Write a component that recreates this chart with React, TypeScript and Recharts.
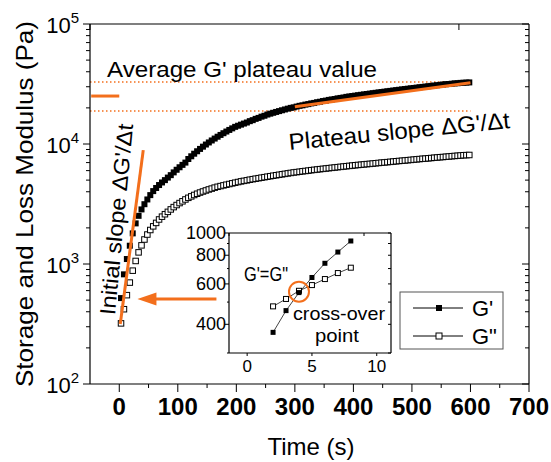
import { ComposedChart, LineChart, Line, XAxis, YAxis, ReferenceLine, ReferenceDot } from 'recharts';

const FONT = '"Liberation Sans", Arial, sans-serif';
const ORANGE = '#f36f1c';

// time (s) of each measurement
const times = [
  3, 8, 13, 18, 23, 28, 33, 38, 43, 48, 53, 58, 63, 68, 73, 78, 83, 88, 93, 98,
  103, 108, 113, 118, 123, 128, 133, 138, 143, 148, 153, 158, 163, 168, 173, 178, 183, 188, 193, 198,
  203, 208, 213, 218, 223, 228, 233, 238, 243, 248, 253, 258, 263, 268, 273, 278, 283, 288, 293, 298,
  303, 308, 313, 318, 323, 328, 333, 338, 343, 348, 353, 358, 363, 368, 373, 378, 383, 388, 393, 398,
  403, 408, 413, 418, 423, 428, 433, 438, 443, 448, 453, 458, 463, 468, 473, 478, 483, 488, 493, 498,
  503, 508, 513, 518, 523, 528, 533, 538, 543, 548, 553, 558, 563, 568, 573, 578, 583, 588, 593, 598,
];

// storage modulus G' (Pa)
const gPrime = [
  520, 820, 1100, 1420, 1800, 2180, 2520, 2850, 3150, 3450, 3750, 4050, 4300, 4550, 4780, 5000, 5250, 5500, 5800, 6100,
  6400, 6700, 7000, 7500, 7900, 8300, 8700, 9100, 9500, 9900, 10300, 10700, 11100, 11500, 11900, 12300, 12700, 13100, 13500, 13900,
  14200, 14500, 14800, 15100, 15500, 15800, 16200, 16500, 16900, 17200, 17600, 17900, 18200, 18500, 18800, 19100, 19400, 19700, 20000, 20200,
  20500, 20800, 21000, 21300, 21500, 21800, 22000, 22300, 22500, 22800, 23000, 23300, 23500, 23700, 24000, 24200, 24400, 24700, 24900, 25100,
  25300, 25500, 25700, 25900, 26100, 26300, 26500, 26700, 26900, 27100, 27300, 27500, 27700, 27900, 28100, 28300, 28500, 28700, 28900, 29100,
  29300, 29500, 29700, 29900, 30100, 30300, 30500, 30700, 30900, 31100, 31300, 31500, 31600, 31800, 32000, 32100, 32300, 32400, 32500, 32600,
];

// loss modulus G'' (Pa)
const gDouble = [
  320, 420, 550, 700, 880, 1060, 1250, 1430, 1600, 1760, 1920, 2060, 2200, 2350, 2480, 2600, 2720, 2850, 2980, 3100,
  3220, 3330, 3450, 3560, 3660, 3760, 3850, 3940, 4020, 4100, 4180, 4250, 4330, 4400, 4460, 4520, 4580, 4640, 4700, 4760,
  4820, 4880, 4930, 4980, 5040, 5090, 5140, 5190, 5240, 5290, 5340, 5390, 5440, 5490, 5540, 5590, 5640, 5690, 5740, 5790,
  5830, 5870, 5920, 5960, 6000, 6050, 6090, 6130, 6170, 6210, 6250, 6290, 6330, 6370, 6410, 6450, 6490, 6530, 6570, 6610,
  6650, 6690, 6720, 6760, 6800, 6830, 6870, 6910, 6950, 6990, 7020, 7060, 7100, 7140, 7180, 7220, 7250, 7290, 7330, 7370,
  7410, 7450, 7490, 7530, 7560, 7600, 7640, 7680, 7720, 7760, 7790, 7830, 7870, 7910, 7950, 7980, 8020, 8060, 8080, 8100,
];

// inset: first seconds, cross-over at ~4 s
const insetTimes = [2, 3, 4, 5, 6, 7, 8];
const insetGPrime = [369, 459, 550, 640, 738, 826, 923];
const insetGDouble = [479, 516, 560, 593, 630, 669, 706];

const xTicks = [0, 50, 100, 150, 200, 250, 300, 350, 400, 450, 500, 550, 600, 650, 700];
const xTopTicks = [0, 100, 200, 300, 400, 500, 600, 700];
const yTicks = [
  100, 200, 300, 400, 500, 600, 700, 800, 900,
  1000, 2000, 3000, 4000, 5000, 6000, 7000, 8000, 9000,
  10000, 20000, 30000, 40000, 50000, 60000, 70000, 80000, 90000, 100000,
];
const insetYTicks = [300, 400, 500, 600, 700, 800, 900, 1000];
const insetYLabels = [400, 600, 800, 1000];
const insetXTicks = [0, 5, 10];

const rows = times.map((t, i) => ({ t, gp: gPrime[i], gpp: gDouble[i] }));
const insetRows = insetTimes.map((t, i) => ({ t, gp: insetGPrime[i], gpp: insetGDouble[i] }));

const isDecade = (v: number) => Math.abs(Math.log10(v) - Math.round(Math.log10(v))) < 1e-9;

const BottomTick = ({ x, y, payload }: any) => {
  const major = payload.value % 100 === 0;
  return (
    <g>
      <line x1={x} y1={y} x2={x} y2={y + (major ? 8 : 4)} stroke="#000" />
      {major && (
        <text x={x} y={y + 31} textAnchor="middle" fontFamily={FONT} fontWeight="bold" fontSize={24} fill="#000">
          {payload.value}
        </text>
      )}
    </g>
  );
};

const TopTick = ({ x, y }: any) => <line x1={x} y1={y} x2={x} y2={y + 6} stroke="#000" />;

const LeftTick = ({ x, y, payload }: any) => {
  const major = isDecade(payload.value);
  return (
    <g>
      <line x1={x} y1={y} x2={x - (major ? 7 : 4)} y2={y} stroke="#000" />
      {major && (
        <text x={x - 11} y={y + 9} textAnchor="end" fontFamily={FONT} fontSize={22} fill="#000">
          10
          <tspan dy={-10} fontSize={15}>
            {Math.round(Math.log10(payload.value))}
          </tspan>
        </text>
      )}
    </g>
  );
};

const RightTick = ({ x, y, payload }: any) => {
  const major = isDecade(payload.value);
  return <line x1={x} y1={y} x2={x - (major ? 7 : 4)} y2={y} stroke="#000" />;
};

const InsetLeftTick = ({ x, y, payload }: any) => {
  const lab = insetYLabels.includes(payload.value);
  return (
    <g>
      <line x1={x} y1={y} x2={x - (lab ? 4 : 2)} y2={y} stroke="#000" />
      {lab && (
        <text x={x - 3} y={y + 6} textAnchor="end" fontFamily={FONT} fontSize={18} fill="#000">
          {payload.value}
        </text>
      )}
    </g>
  );
};

const InsetRightTick = ({ x, y }: any) => <line x1={x} y1={y} x2={x - 3} y2={y} stroke="#000" />;

const InsetBottomTick = ({ x, y, payload }: any) => (
  <g>
    <line x1={x} y1={y} x2={x} y2={y + 3} stroke="#000" />
    <text x={x} y={y + 19} textAnchor="middle" fontFamily={FONT} fontSize={17} fill="#000">
      {payload.value}
    </text>
  </g>
);

const InsetTopTick = ({ x, y }: any) => <line x1={x} y1={y} x2={x} y2={y + 3} stroke="#000" />;

const squareDot = (filled: boolean, size: number) => (p: any) => {
  const { cx, cy, index } = p;
  if (cx == null || cy == null) return <g key={`n${index}`} />;
  const h = size / 2;
  return (
    <rect
      key={`s${index}`}
      x={cx - h}
      y={cy - h}
      width={size}
      height={size}
      fill={filled ? '#000' : '#fff'}
      stroke="#000"
      strokeWidth={filled ? 0 : 1}
    />
  );
};

const ArrowShape = (p: any) => {
  const { x1, y1, x2, y2 } = p;
  return (
    <g>
      <line x1={x1} y1={y1} x2={x2 + 14} y2={y2} stroke={ORANGE} strokeWidth={3} />
      <polygon points={`${x2},${y2} ${x2 + 19},${y2 - 6.5} ${x2 + 19},${y2 + 6.5}`} fill={ORANGE} />
    </g>
  );
};

const axisLine = { stroke: '#000', strokeWidth: 1.2 };

// same axes as the main chart, used for the orange marks drawn over the data
function MainAxes({ hidden }: { hidden?: boolean }) {
  const common = { tickLine: false, tickSize: 0, tickMargin: 0, interval: 0 as const, allowDataOverflow: true };
  return [
    <XAxis key="xb" xAxisId="b" dataKey="t" type="number" domain={[-50, 700]} ticks={xTicks}
      tick={hidden ? false : <BottomTick />} height={78} axisLine={hidden ? false : axisLine} {...common} />,
    <XAxis key="xt" xAxisId="top" orientation="top" type="number" domain={[-50, 700]} ticks={xTopTicks}
      tick={hidden ? false : <TopTick />} height={24} axisLine={hidden ? false : axisLine} {...common} />,
    <YAxis key="yl" yAxisId="l" scale="log" type="number" domain={[100, 100000]} ticks={yTicks}
      tick={hidden ? false : <LeftTick />} width={90} axisLine={hidden ? false : axisLine} {...common} />,
    <YAxis key="yr" yAxisId="r" orientation="right" scale="log" type="number" domain={[100, 100000]} ticks={yTicks}
      tick={hidden ? false : <RightTick />} width={22} axisLine={hidden ? false : axisLine} {...common} />,
  ];
}

function Inset() {
  return (
    <div style={{ position: 'absolute', left: 180, top: 220 }}>
      <LineChart width={220} height={160} data={insetRows} margin={{ top: 0, right: 0, bottom: 0, left: 0 }}>
        <XAxis xAxisId="b" dataKey="t" type="number" domain={[-1.4, 11.1]} ticks={insetXTicks} interval={0}
          tick={<InsetBottomTick />} tickLine={false} tickSize={0} tickMargin={0} height={27} axisLine={axisLine} allowDataOverflow />
        <XAxis xAxisId="top" orientation="top" type="number" domain={[-1.4, 11.1]} ticks={insetXTicks} interval={0}
          tick={<InsetTopTick />} tickLine={false} tickSize={0} tickMargin={0} height={13} axisLine={axisLine} allowDataOverflow />
        <YAxis yAxisId="l" scale="log" type="number" domain={[300, 1000]} ticks={insetYTicks} interval={0}
          tick={<InsetLeftTick />} tickLine={false} tickSize={0} tickMargin={0} width={49} axisLine={axisLine} allowDataOverflow />
        <YAxis yAxisId="r" orientation="right" scale="log" type="number" domain={[300, 1000]} ticks={insetYTicks} interval={0}
          tick={<InsetRightTick />} tickLine={false} tickSize={0} tickMargin={0} width={9} axisLine={axisLine} allowDataOverflow />
        <Line xAxisId="b" yAxisId="l" dataKey="gpp" stroke="#444" strokeWidth={1} dot={squareDot(false, 5)}
          activeDot={false} isAnimationActive={false} />
        <Line xAxisId="b" yAxisId="l" dataKey="gp" stroke="#444" strokeWidth={1} dot={squareDot(true, 5)}
          activeDot={false} isAnimationActive={false} />
        <ReferenceDot xAxisId="b" yAxisId="l" x={4} y={555} r={10} fill="none" stroke={ORANGE} strokeWidth={2} />
      </LineChart>
    </div>
  );
}

function Annotations() {
  return (
    <svg width={551} height={462} style={{ position: 'absolute', left: 0, top: 0, pointerEvents: 'none' }}>
      <g fontFamily={FONT} fill="#000">
        <text x={107} y={77} fontSize={22} textLength={270} lengthAdjust="spacingAndGlyphs">
          Average G' plateau value
        </text>
        <text x={400} y={139} fontSize={23} textAnchor="middle" textLength={222} lengthAdjust="spacingAndGlyphs"
          transform="rotate(-5.7 400 139)">
          Plateau slope ΔG'/Δt
        </text>
        <text x={124} y={220} fontSize={22} textAnchor="middle" textLength={192} lengthAdjust="spacingAndGlyphs"
          transform="rotate(-84.6 124 220)">
          Initial slope ΔG'/Δt
        </text>
        <text x={244} y={281} fontSize={20} textLength={44} lengthAdjust="spacingAndGlyphs">
          G'=G"
        </text>
        <text x={339} y={320} fontSize={19} textAnchor="middle" textLength={92} lengthAdjust="spacingAndGlyphs">
          cross-over
        </text>
        <text x={337} y={342} fontSize={19} textAnchor="middle" textLength={44} lengthAdjust="spacingAndGlyphs">
          point
        </text>
        <text x={33} y={204} fontSize={24} textAnchor="middle" textLength={366} lengthAdjust="spacingAndGlyphs"
          transform="rotate(-90 33 204)">
          Storage and Loss Modulus (Pa)
        </text>
        <text x={311} y={455} fontSize={24} textAnchor="middle">
          Time (s)
        </text>
      </g>
      {/* legend */}
      <rect x={400} y={292} width={103} height={57} fill="none" stroke="#555" strokeWidth={1} />
      <line x1={413} y1={308} x2={463} y2={308} stroke="#000" />
      <rect x={436} y={305} width={6} height={6} fill="#000" />
      <line x1={413} y1={336} x2={463} y2={336} stroke="#000" />
      <rect x={436} y={333} width={6} height={6} fill="#fff" stroke="#000" />
      <text x={472} y={316} fontFamily={FONT} fontSize={22}>G'</text>
      <text x={472} y={344} fontFamily={FONT} fontSize={22}>G"</text>
    </svg>
  );
}

export default function App() {
  return (
    <div style={{ position: 'absolute', left: 0, top: 0, width: 551, height: 462, background: '#fff' }}>
      <ComposedChart width={551} height={462} data={rows} margin={{ top: 0, right: 0, bottom: 0, left: 0 }}>
        {MainAxes({})}
        {/* plateau band and mean value */}
        <ReferenceLine xAxisId="b" yAxisId="l" segment={[{ x: -50, y: 32900 }, { x: 600, y: 32900 }]}
          stroke={ORANGE} strokeWidth={1.5} strokeDasharray="1.5 2.5" />
        <ReferenceLine xAxisId="b" yAxisId="l" segment={[{ x: -50, y: 18850 }, { x: 600, y: 18850 }]}
          stroke={ORANGE} strokeWidth={1.5} strokeDasharray="1.5 2.5" />
        <ReferenceLine xAxisId="b" yAxisId="l" segment={[{ x: -48, y: 25100 }, { x: 0, y: 25100 }]}
          stroke={ORANGE} strokeWidth={3} />
        <Line xAxisId="b" yAxisId="l" dataKey="gpp" stroke="none" dot={squareDot(false, 5.5)}
          activeDot={false} isAnimationActive={false} />
        <Line xAxisId="b" yAxisId="l" dataKey="gp" stroke="none" dot={squareDot(true, 6)}
          activeDot={false} isAnimationActive={false} />
      </ComposedChart>
      <div style={{ position: 'absolute', left: 0, top: 0 }}>
        <ComposedChart width={551} height={462} data={rows} margin={{ top: 0, right: 0, bottom: 0, left: 0 }}>
          {MainAxes({ hidden: true })}
          {/* slopes */}
          <ReferenceLine xAxisId="b" yAxisId="l" segment={[{ x: 300, y: 20400 }, { x: 600, y: 32400 }]}
            stroke={ORANGE} strokeWidth={3} />
          <ReferenceLine xAxisId="b" yAxisId="l" segment={[{ x: 1.7, y: 316 }, { x: 41, y: 8900 }]}
            stroke={ORANGE} strokeWidth={3} />
          {/* arrow pointing at the cross-over time */}
          <ReferenceLine xAxisId="b" yAxisId="l" segment={[{ x: 166, y: 511 }, { x: 31, y: 511 }]}
            shape={ArrowShape} />
        </ComposedChart>
      </div>
      <Inset />
      <Annotations />
    </div>
  );
}
